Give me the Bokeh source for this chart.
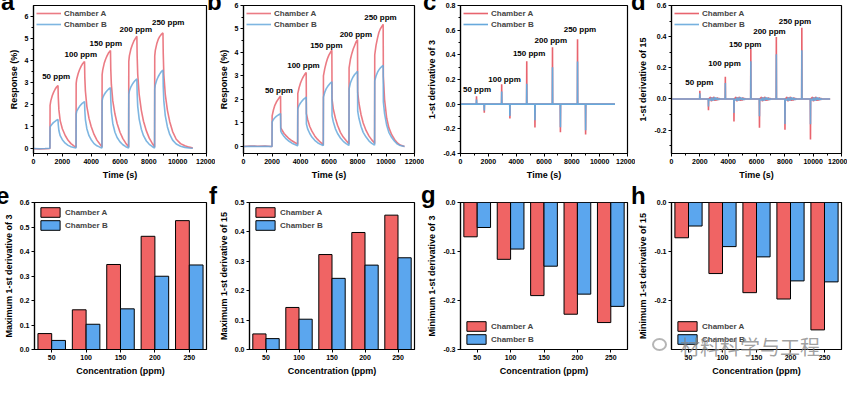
from bokeh.plotting import figure
from bokeh.layouts import row, column
from bokeh.models import Range1d, FactorRange, FixedTicker, NumeralTickFormatter, ColumnDataSource, Div
from bokeh.transform import dodge
from bokeh.core.properties import value
from bokeh.embed import file_html
from bokeh.resources import INLINE

FONT = "Liberation Sans"
RED_LINE = "#E8646E"
BLUE_LINE = "#67A9DC"
RED_BAR = "#F06464"
BLUE_BAR = "#5BA6EE"

# ------------------------------------------------------------------ data
ppm_labels = ["50 ppm", "100 ppm", "150 ppm", "200 ppm", "250 ppm"]
conc = ["50", "100", "150", "200", "250"]
panel_letters = ["a", "b", "c", "d", "e", "f", "g", "h"]
watermark = "材料科学与工程"

# panel a : response (%) vs time (s)
a_time = [0, 400, 800, 1140,
          1150, 1200, 1300, 1400, 1500, 1600, 1700,
          1720, 1760, 1850, 2000, 2200, 2400, 2600, 2800, 2950,
          2960, 3000, 3100, 3200, 3300, 3400, 3540,
          3560, 3600, 3700, 3850, 4000, 4200, 4400, 4600, 4750,
          4760, 4800, 4900, 5000, 5100, 5200, 5340,
          5360, 5400, 5500, 5650, 5800, 6000, 6200, 6400, 6600,
          6610, 6650, 6750, 6850, 6950, 7050, 7170,
          7190, 7230, 7330, 7480, 7630, 7830, 8030, 8230, 8400,
          8410, 8450, 8550, 8650, 8750, 8850, 8980,
          9000, 9040, 9140, 9290, 9450, 9650, 9900, 10200, 10500, 10800, 11050]
a_A = [-0.03, -0.04, -0.03, -0.02,
       1.95, 2.15, 2.38, 2.55, 2.68, 2.78, 2.85,
       2.3, 1.75, 1.25, 0.88, 0.57, 0.35, 0.2, 0.1, 0.04,
       2.95, 3.15, 3.4, 3.58, 3.72, 3.84, 3.95,
       3.2, 2.6, 1.9, 1.35, 0.98, 0.62, 0.36, 0.18, 0.05,
       3.35, 3.55, 3.85, 4.05, 4.2, 4.33, 4.45,
       3.6, 2.9, 2.15, 1.55, 1.12, 0.72, 0.43, 0.22, 0.05,
       3.95, 4.2, 4.5, 4.7, 4.86, 4.98, 5.1,
       4.2, 3.35, 2.45, 1.72, 1.22, 0.78, 0.45, 0.22, 0.05,
       4.2, 4.45, 4.75, 4.95, 5.08, 5.17, 5.25,
       4.3, 3.35, 2.45, 1.72, 1.2, 0.75, 0.4, 0.2, 0.1, 0.04, 0.0]
a_B = [-0.02, -0.03, -0.02, -0.01,
       0.95, 1.02, 1.1, 1.17, 1.22, 1.27, 1.3,
       1.05, 0.8, 0.56, 0.38, 0.22, 0.12, 0.06, 0.02, 0.0,
       1.55, 1.68, 1.8, 1.9, 1.98, 2.05, 2.12,
       1.7, 1.3, 0.88, 0.56, 0.38, 0.2, 0.1, 0.04, 0.0,
       2.15, 2.28, 2.43, 2.53, 2.61, 2.68, 2.75,
       2.2, 1.65, 1.12, 0.72, 0.48, 0.28, 0.15, 0.06, 0.0,
       2.45, 2.6, 2.78, 2.9, 3.0, 3.08, 3.15,
       2.5, 1.9, 1.32, 0.86, 0.56, 0.32, 0.17, 0.07, 0.0,
       2.7, 2.88, 3.1, 3.25, 3.37, 3.47, 3.55,
       2.8, 2.15, 1.48, 0.96, 0.62, 0.36, 0.18, 0.08, 0.03, 0.0, -0.01]
a_lab_x = [1572, 3283, 5017, 7098, 9341]
a_lab_y = [3.25, 4.25, 4.77, 5.39, 5.73]

# panel b : response (%) vs time (s)
b_time = [0, 500, 1000, 1500, 1990,
          2000, 2010, 2100, 2200, 2300, 2400, 2500, 2600,
          2615, 2700, 2850, 3000, 3200, 3400, 3600, 3790,
          3800, 3810, 3900, 4000, 4100, 4200, 4300, 4400,
          4415, 4500, 4650, 4800, 5000, 5200, 5400, 5590,
          5600, 5610, 5700, 5800, 5900, 6000, 6100, 6200,
          6215, 6300, 6450, 6600, 6800, 7000, 7200, 7390,
          7400, 7410, 7500, 7600, 7700, 7800, 7900, 8000,
          8015, 8100, 8250, 8400, 8600, 8800, 9000, 9190,
          9200, 9210, 9300, 9400, 9500, 9600, 9700, 9800,
          9815, 9900, 10050, 10200, 10400, 10600, 10800, 11000, 11300]
b_A = [0.0, 0.02, 0.01, 0.02, 0.0,
       0.0, 1.3, 1.55, 1.75, 1.88, 1.98, 2.07, 2.15,
       0.8, 0.7, 0.55, 0.45, 0.33, 0.24, 0.17, 0.1,
       0.08, 2.25, 2.5, 2.7, 2.85, 2.97, 3.07, 3.15,
       1.4, 1.15, 0.85, 0.65, 0.45, 0.3, 0.18, 0.08,
       0.06, 3.0, 3.3, 3.55, 3.75, 3.9, 4.0, 4.1,
       2.0, 1.6, 1.2, 0.9, 0.6, 0.4, 0.25, 0.12,
       0.1, 3.35, 3.7, 3.95, 4.15, 4.3, 4.45, 4.55,
       2.3, 1.85, 1.35, 1.0, 0.68, 0.45, 0.28, 0.15,
       0.12, 3.9, 4.3, 4.6, 4.85, 5.0, 5.1, 5.2,
       3.0, 2.0, 1.2, 0.8, 0.5, 0.3, 0.15, 0.06, 0.0]
b_B = [0.0, 0.01, 0.0, 0.01, 0.0,
       0.0, 1.05, 1.15, 1.22, 1.28, 1.32, 1.36, 1.4,
       0.65, 0.55, 0.42, 0.32, 0.22, 0.14, 0.08, 0.03,
       0.03, 1.6, 1.75, 1.85, 1.93, 2.0, 2.05, 2.1,
       0.95, 0.75, 0.55, 0.4, 0.26, 0.16, 0.09, 0.04,
       0.03, 2.1, 2.3, 2.45, 2.55, 2.63, 2.7, 2.75,
       1.3, 1.05, 0.75, 0.55, 0.36, 0.22, 0.12, 0.05,
       0.04, 2.45, 2.7, 2.85, 2.97, 3.06, 3.13, 3.2,
       1.5, 1.2, 0.85, 0.6, 0.4, 0.24, 0.13, 0.06,
       0.05, 2.8, 3.0, 3.15, 3.26, 3.34, 3.4, 3.45,
       1.9, 1.4, 0.9, 0.6, 0.38, 0.22, 0.1, 0.04, 0.0]
b_lab_x = [2483, 4207, 5816, 7885, 9609]
b_lab_y = [2.39, 3.43, 4.31, 4.76, 5.47]

# bar panels e-h (and spike heights of c, d)
max3_A = [0.065, 0.162, 0.347, 0.462, 0.526]
max3_B = [0.037, 0.103, 0.166, 0.299, 0.345]
max15_A = [0.053, 0.143, 0.323, 0.398, 0.457]
max15_B = [0.037, 0.103, 0.242, 0.287, 0.312]
min3_A = [-0.070, -0.116, -0.190, -0.228, -0.245]
min3_B = [-0.051, -0.095, -0.130, -0.187, -0.212]
min15_A = [-0.072, -0.145, -0.184, -0.197, -0.260]
min15_B = [-0.048, -0.090, -0.111, -0.160, -0.162]

# panel c : spike times (s)
c_up_t = [1150, 2960, 4760, 6610, 8410]
c_dn_t = [1710, 3550, 5350, 7180, 8990]
c_end_t = 11100
c_lab_x = [1186, 3163, 4930, 6488, 8581]
c_lab_y = [0.115, 0.20, 0.41, 0.52, 0.607]

# panel d : spike times (s) and small ripple after desorption
d_up_t = [2000, 3800, 5600, 7400, 9200]
d_dn_t = [2610, 4410, 6210, 8010, 9810]
d_end_t = 11200
d_ripple_dt = [150, 210, 270, 330, 390, 450, 510, 570, 630, 690, 750]
d_ripple_A = [0.012, -0.015, 0.010, -0.008, 0.014, -0.012, 0.006, -0.010, 0.009, -0.006, 0.004]
d_ripple_B = [-0.008, 0.010, -0.012, 0.007, -0.009, 0.011, -0.005, 0.008, -0.006, 0.004, -0.003]
d_lab_x = [1965, 3746, 5202, 6913, 8717]
d_lab_y = [0.108, 0.227, 0.352, 0.434, 0.499]


def spike_trace(up_t, up_v, dn_t, dn_v, end_t, ripple_dt=None, ripple=None):
    ev = []
    for t, v in zip(up_t, up_v):
        ev.append((t, v, False))
    for t, v in zip(dn_t, dn_v):
        ev.append((t, v, True))
    ev.sort()
    xs, ys = [0], [0.0]
    for t, v, is_dn in ev:
        xs += [t - 12, t, t + 12]
        ys += [0.0, v, 0.0]
        if is_dn and ripple is not None:
            for dt, r in zip(ripple_dt, ripple):
                xs.append(t + dt)
                ys.append(r)
            xs.append(t + ripple_dt[-1] + 60)
            ys.append(0.0)
    xs.append(end_t)
    ys.append(0.0)
    return xs, ys


# ------------------------------------------------------------------ layout
FW = 173
COLB = [(33, 9), (26, 10), (30, 8), (33, 6)]
ROWB = [(5, 37), (12, 31)]
FH = [148, 147]
LW = 1.6


def make_fig(ci, ri, x_range, y_range):
    lb, rb = COLB[ci]
    tb, bb = ROWB[ri]
    p = figure(width=lb + FW + rb, height=tb + FH[ri] + bb,
               x_range=x_range, y_range=y_range,
               output_backend="svg", toolbar_location=None,
               min_border_left=lb, min_border_right=rb,
               min_border_top=tb, min_border_bottom=bb)
    p.xgrid.visible = False
    p.ygrid.visible = False
    p.outline_line_color = "black"
    p.outline_line_width = 1.2
    p.outline_line_alpha = 1
    p.background_fill_color = "white"
    p.border_fill_color = "white"
    for ax in (p.xaxis[0], p.yaxis[0]):
        ax.axis_line_width = 1.2
        ax.axis_line_color = "black"
        ax.major_tick_out = 3
        ax.major_tick_in = 0
        ax.minor_tick_out = 2
        ax.minor_tick_in = 0
        ax.major_tick_line_color = "black"
        ax.minor_tick_line_color = "black"
        ax.major_label_text_font = FONT
        ax.major_label_text_font_size = "7px"
        ax.major_label_text_font_style = "bold"
        ax.major_label_text_color = "black"
        ax.major_label_standoff = 2
        ax.axis_label_text_font = FONT
        ax.axis_label_text_font_size = "9px"
        ax.axis_label_text_font_style = "bold"
        ax.axis_label_text_color = "black"
        ax.axis_label_standoff = 3
    return p


def line_legend(p):
    lg = p.legend[0]
    lg.location = "top_left"
    lg.label_text_font = FONT
    lg.label_text_font_size = "8px"
    lg.label_text_font_style = "bold"
    lg.glyph_width = 25
    lg.glyph_height = 10
    lg.label_height = 10
    lg.label_standoff = 3
    lg.spacing = 1
    lg.padding = 1
    lg.margin = 2
    lg.background_fill_alpha = 0
    lg.border_line_alpha = 0


def bar_legend(p, loc):
    lg = p.legend[0]
    lg.location = loc
    lg.label_text_font = FONT
    lg.label_text_font_size = "8px"
    lg.label_text_font_style = "bold"
    lg.glyph_width = 24
    lg.glyph_height = 12
    lg.label_height = 12
    lg.label_standoff = 3
    lg.spacing = 1
    lg.padding = 1
    lg.margin = 3
    lg.background_fill_alpha = 0
    lg.border_line_alpha = 0


def ppm_text(p, xs, ys):
    src = ColumnDataSource(dict(x=xs, y=ys, t=ppm_labels))
    p.text(x="x", y="y", text="t", source=src, text_font=value(FONT), text_font_size="8px",
           text_font_style="bold", text_align="center", text_baseline="middle", text_color="black")


time_ticks = [0, 2000, 4000, 6000, 8000, 10000, 12000]
time_minor = [1000, 3000, 5000, 7000, 9000, 11000]

# ---- a
pa = make_fig(0, 0, Range1d(0, 12000), Range1d(-0.25, 6.5))
pa.line(a_time, a_A, line_color=RED_LINE, line_width=LW, line_alpha=0.85, legend_label="Chamber A")
pa.line(a_time, a_B, line_color=BLUE_LINE, line_width=LW, line_alpha=0.85, legend_label="Chamber B")
pa.xaxis.ticker = FixedTicker(ticks=time_ticks, minor_ticks=time_minor)
pa.yaxis.ticker = FixedTicker(ticks=[0, 1, 2, 3, 4, 5, 6], minor_ticks=[0.5, 1.5, 2.5, 3.5, 4.5, 5.5])
pa.xaxis.axis_label = "Time (s)"
pa.yaxis.axis_label = "Response (%)"
ppm_text(pa, a_lab_x, a_lab_y)
line_legend(pa)

# ---- b
pb = make_fig(1, 0, Range1d(0, 12000), Range1d(-0.3, 6.0))
pb.line(b_time, b_A, line_color=RED_LINE, line_width=LW, line_alpha=0.85, legend_label="Chamber A")
pb.line(b_time, b_B, line_color=BLUE_LINE, line_width=LW, line_alpha=0.85, legend_label="Chamber B")
pb.xaxis.ticker = FixedTicker(ticks=time_ticks, minor_ticks=time_minor)
pb.yaxis.ticker = FixedTicker(ticks=[0, 1, 2, 3, 4, 5, 6], minor_ticks=[0.5, 1.5, 2.5, 3.5, 4.5, 5.5])
pb.xaxis.axis_label = "Time (s)"
pb.yaxis.axis_label = "Response (%)"
ppm_text(pb, b_lab_x, b_lab_y)
line_legend(pb)

# ---- c
pc = make_fig(2, 0, Range1d(0, 12000), Range1d(-0.4, 0.8))
cxA, cyA = spike_trace(c_up_t, max3_A, c_dn_t, min3_A, c_end_t)
cxB, cyB = spike_trace(c_up_t, max3_B, c_dn_t, min3_B, c_end_t)
pc.line(cxA, cyA, line_color=RED_LINE, line_width=LW, legend_label="Chamber A")
pc.line(cxB, cyB, line_color=BLUE_LINE, line_width=LW, legend_label="Chamber B")
pc.xaxis.ticker = FixedTicker(ticks=time_ticks, minor_ticks=time_minor)
pc.yaxis.ticker = FixedTicker(ticks=[-0.4, -0.2, 0.0, 0.2, 0.4, 0.6, 0.8],
                              minor_ticks=[-0.3, -0.1, 0.1, 0.3, 0.5, 0.7])
pc.yaxis.formatter = NumeralTickFormatter(format="0.0")
pc.xaxis.axis_label = "Time (s)"
pc.yaxis.axis_label = "1-st derivative of 3"
ppm_text(pc, c_lab_x, c_lab_y)
line_legend(pc)

# ---- d
pd_ = make_fig(3, 0, Range1d(0, 12000), Range1d(-0.35, 0.6))
dxA, dyA = spike_trace(d_up_t, max15_A, d_dn_t, min15_A, d_end_t, d_ripple_dt, d_ripple_A)
dxB, dyB = spike_trace(d_up_t, max15_B, d_dn_t, min15_B, d_end_t, d_ripple_dt, d_ripple_B)
pd_.line(dxA, dyA, line_color=RED_LINE, line_width=LW, legend_label="Chamber A")
pd_.line(dxB, dyB, line_color=BLUE_LINE, line_width=LW, line_alpha=0.9, legend_label="Chamber B")
pd_.xaxis.ticker = FixedTicker(ticks=time_ticks, minor_ticks=time_minor)
pd_.yaxis.ticker = FixedTicker(ticks=[-0.2, 0.0, 0.2, 0.4, 0.6], minor_ticks=[-0.3, -0.1, 0.1, 0.3, 0.5])
pd_.yaxis.formatter = NumeralTickFormatter(format="0.0")
pd_.xaxis.axis_label = "Time (s)"
pd_.yaxis.axis_label = "1-st derivative of 15"
ppm_text(pd_, d_lab_x, d_lab_y)
line_legend(pd_)


# ---- bar panels
def bar_panel(ci, vals_A, vals_B, yr, yticks, ylabel, negative, loc):
    p = make_fig(ci, 1, FactorRange(factors=conc), Range1d(*yr))
    src = ColumnDataSource(dict(c=conc, A=vals_A, B=vals_B))
    if negative:
        p.vbar(x=dodge("c", -0.2, range=p.x_range), top=0, bottom="A", width=0.4, source=src,
               fill_color=RED_BAR, line_color="black", line_width=1, legend_label="Chamber A")
        p.vbar(x=dodge("c", 0.2, range=p.x_range), top=0, bottom="B", width=0.4, source=src,
               fill_color=BLUE_BAR, line_color="black", line_width=1, legend_label="Chamber B")
    else:
        p.vbar(x=dodge("c", -0.2, range=p.x_range), top="A", bottom=0, width=0.4, source=src,
               fill_color=RED_BAR, line_color="black", line_width=1, legend_label="Chamber A")
        p.vbar(x=dodge("c", 0.2, range=p.x_range), top="B", bottom=0, width=0.4, source=src,
               fill_color=BLUE_BAR, line_color="black", line_width=1, legend_label="Chamber B")
    p.yaxis.ticker = FixedTicker(ticks=yticks)
    p.yaxis.formatter = NumeralTickFormatter(format="0.0")
    p.xaxis.axis_label = "Concentration (ppm)"
    p.yaxis.axis_label = ylabel
    bar_legend(p, loc)
    return p


pe = bar_panel(0, max3_A, max3_B, (0, 0.6), [0.0, 0.1, 0.2, 0.3, 0.4, 0.5, 0.6],
               "Maximum 1-st derivative of 3", False, "top_left")
pf = bar_panel(1, max15_A, max15_B, (0, 0.5), [0.0, 0.1, 0.2, 0.3, 0.4, 0.5],
               "Maximum 1-st derivative of 15", False, "top_left")
pg = bar_panel(2, min3_A, min3_B, (-0.3, 0), [-0.3, -0.2, -0.1, 0.0],
               "Minimum 1-st derivative of 3", True, "bottom_left")
ph = bar_panel(3, min15_A, min15_B, (-0.3, 0), [-0.2, -0.1, 0.0],
               "Minimum 1-st derivative of 15", True, "bottom_left")

# ---- panel letters and watermark, overlaid as HTML (origin = layout's top-left corner)
LETTER_LEFT = [9, 215, 431, 639, 4, 217, 429, 639]
LETTER_BASE = [18, 18, 18, 18, 212, 212, 211, 212]
spans = []
for ch, lx, by in zip(panel_letters, LETTER_LEFT, LETTER_BASE):
    spans.append(
        f'<span style="position:absolute;left:{lx - 8}px;top:{by - 8 - 17}px;'
        f"font-family:'Liberation Sans';font-weight:bold;font-size:24px;line-height:18px;"
        f'color:#000;white-space:nowrap;">{ch}</span>')
spans.append('<span style="position:absolute;left:652px;top:338px;width:15px;height:13px;'
             'border:2px solid rgba(150,150,150,0.7);border-radius:50%;"></span>')
spans.append(f'<span style="position:absolute;left:680px;top:337px;'
             f"font-family:'Noto Sans CJK SC';font-size:20px;line-height:20px;"
             f'color:rgba(130,130,130,0.75);white-space:nowrap;">{watermark}</span>')
overlay = Div(text="".join(spans), width=847, height=0, margin=0,
              styles={"position": "relative", "z-index": "10", "overflow": "visible"})

layout = column(overlay, row(pa, pb, pc, pd_), row(pe, pf, pg, ph))
open("out.html", "w").write(file_html(layout, INLINE))
